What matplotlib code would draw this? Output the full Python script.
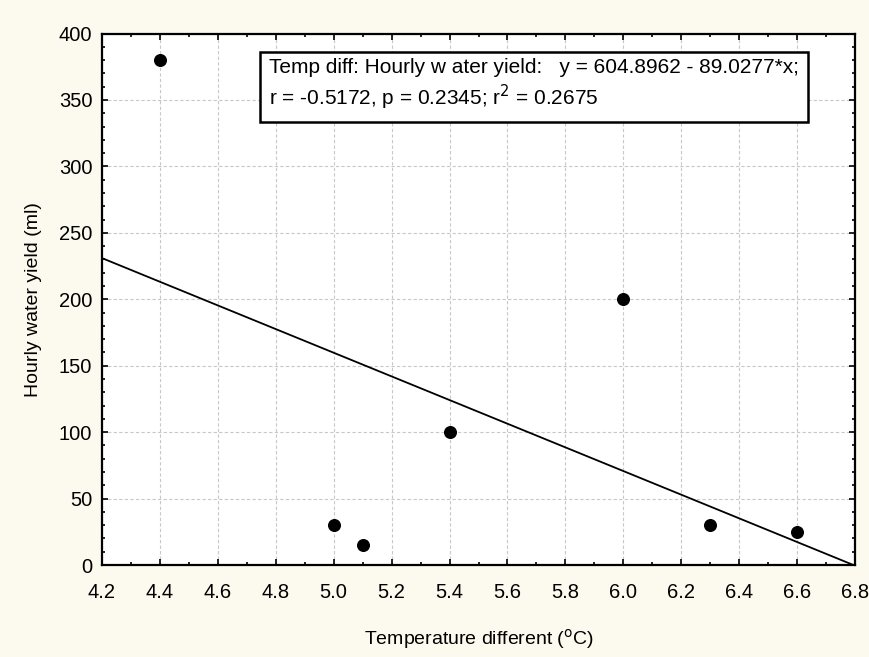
import numpy as np
import matplotlib.pyplot as plt
from matplotlib.ticker import MultipleLocator

plt.rcParams['font.family'] = ['Liberation Sans', 'DejaVu Sans']

# data
temp_diff = [4.4, 5.0, 5.1, 5.4, 6.0, 6.3, 6.6]
water_yield = [380, 30, 15, 100, 200, 30, 25]
intercept = 604.8962
slope = -89.0277

fig = plt.figure(figsize=(8.7, 6.57), dpi=100, facecolor='#FCF9EE')
ax = fig.add_axes([0.1172, 0.140, 0.8656, 0.809])
ax.set_facecolor('white')

ax.scatter(temp_diff, water_yield, s=70, color='black', zorder=3)
xl = np.array([4.2, 6.8])
ax.plot(xl, intercept + slope * xl, color='black', lw=1.3, zorder=2)

ax.set_xlim(4.2, 6.8)
ax.set_ylim(0, 400)
ax.xaxis.set_major_locator(MultipleLocator(0.2))
ax.xaxis.set_minor_locator(MultipleLocator(0.1))
ax.yaxis.set_major_locator(MultipleLocator(50))
ax.yaxis.set_minor_locator(MultipleLocator(10))
ax.xaxis.set_major_formatter(lambda v, p: f'{v:.1f}')
ax.tick_params(which='both', direction='in', top=True, right=True, labelsize=14.5)
ax.tick_params(axis='x', pad=13)
ax.tick_params(axis='y', pad=7)
ax.tick_params(which='major', length=4, width=1.2)
ax.tick_params(which='minor', length=2.5, width=1.2)
ax.grid(True, which='major', linestyle=(0, (3, 2)), color='#c8c8c8', lw=0.8)
for s in ax.spines.values():
    s.set_linewidth(1.6)

ax.set_xlabel('Temperature different ($^{\\rm o}$C)', fontsize=14, labelpad=18)
ax.set_ylabel('Hourly water yield (ml)', fontsize=14, labelpad=12)

txt = ('Temp diff: Hourly w ater yield:   y = 604.8962 - 89.0277*x;\n'
       'r = -0.5172, p = 0.2345; r$^2$ = 0.2675')
ax.text(0.222, 0.953, txt, transform=ax.transAxes, fontsize=15, va='top', ha='left',
        linespacing=1.25,
        bbox=dict(boxstyle='square,pad=0.45', facecolor='white', edgecolor='black', lw=1.8),
        zorder=5)

fig.savefig('out.png', dpi=100, facecolor=fig.get_facecolor())
